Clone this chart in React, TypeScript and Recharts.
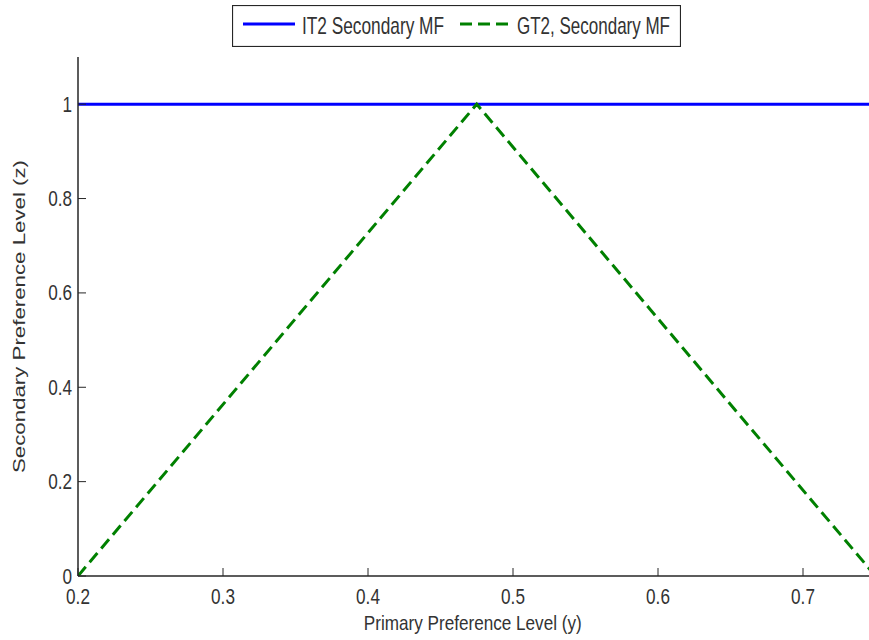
import { LineChart, Line, XAxis, YAxis, Label } from "recharts";

const xTicks = [0.2, 0.3, 0.4, 0.5, 0.6, 0.7];
const yTicks = [0, 0.2, 0.4, 0.6, 0.8, 1];
const it2X = [0.2, 0.75];
const it2Y = [1, 1];
const gt2X = [0.2, 0.475, 0.75];
const gt2Y = [0, 1, 0];

const it2Data = it2X.map((x, i) => ({ x, y: it2Y[i] }));
const gt2Data = gt2X.map((x, i) => ({ x, y: gt2Y[i] }));

const FONT = "'Liberation Sans', Arial, sans-serif";
const AXIS = "#262626";
const TEXT = "#333";
const BLUE = "#0000ff";
const GREEN = "#008000";
const TICK = 8;

// narrow, tall text like the reference's stretched figure
function NarrowText({ x, y, anchor, size, sx, children }: any) {
  return (
    <text
      transform={`translate(${x} ${y}) scale(${sx} 1)`}
      x={0}
      y={0}
      textAnchor={anchor}
      fontSize={size}
      fontFamily={FONT}
      fill={TEXT}
    >
      {children}
    </text>
  );
}

function BottomTick({ x, y, payload }: any) {
  return (
    <g>
      <line x1={x} y1={y} x2={x} y2={y - TICK} stroke={AXIS} />
      <NarrowText x={x} y={y + 28} anchor="middle" size={22} sx={0.78}>
        {String(payload.value)}
      </NarrowText>
    </g>
  );
}

function TopTick({ x, y }: any) {
  return <line x1={x} y1={y} x2={x} y2={y + TICK} stroke={AXIS} />;
}

function LeftTick({ x, y, payload }: any) {
  return (
    <g>
      <line x1={x} y1={y} x2={x + TICK} y2={y} stroke={AXIS} />
      <NarrowText x={x - 6} y={y + 7.5} anchor="end" size={22} sx={0.78}>
        {String(payload.value)}
      </NarrowText>
    </g>
  );
}

function RightTick({ x, y }: any) {
  return <line x1={x} y1={y} x2={x - TICK} y2={y} stroke={AXIS} />;
}

export default function App() {
  return (
    <div
      style={{
        position: "fixed",
        left: 0,
        top: 0,
        width: 869,
        height: 640,
        overflow: "hidden",
        background: "#fff",
      }}
    >
      <LineChart
        width={880}
        height={640}
        margin={{ top: 57, right: 4.5, bottom: 0, left: 18 }}
      >
        <XAxis
          type="number"
          dataKey="x"
          domain={[0.2, 0.75]}
          ticks={xTicks}
          allowDataOverflow
          height={64}
          tickSize={0}
          tickMargin={0}
          tickLine={false}
          stroke={AXIS}
          strokeWidth={1.5}
          tick={<BottomTick />}
          interval={0}
        >
          <Label
            content={(props: any) => {
              const vb = props.viewBox;
              return (
                <text
                  x={vb.x + vb.width / 2 - 4}
                  y={vb.y + 54}
                  textAnchor="middle"
                  textLength={218}
                  lengthAdjust="spacingAndGlyphs"
                  fontSize={21}
                  fontFamily={FONT}
                  fill={TEXT}
                >
                  Primary Preference Level (y)
                </text>
              );
            }}
          />
        </XAxis>
        <XAxis
          xAxisId="top"
          orientation="top"
          type="number"
          dataKey="x"
          domain={[0.2, 0.75]}
          ticks={xTicks}
          height={0}
          tickSize={0}
          tickMargin={0}
          tickLine={false}
          stroke={AXIS}
          tick={<TopTick />}
          interval={0}
        />
        <YAxis
          type="number"
          domain={[0, 1.1]}
          ticks={yTicks}
          allowDataOverflow
          width={60}
          tickSize={0}
          tickMargin={0}
          tickLine={false}
          stroke={AXIS}
          strokeWidth={1.5}
          tick={<LeftTick />}
          interval={0}
        >
          <Label
            content={(props: any) => {
              const vb = props.viewBox;
              const cy = vb.y + vb.height / 2;
              return (
                <text
                  x={25}
                  y={cy}
                  transform={`rotate(-90 25 ${cy})`}
                  textAnchor="middle"
                  textLength={313}
                  lengthAdjust="spacingAndGlyphs"
                  fontSize={16}
                  fontFamily={FONT}
                  fill={TEXT}
                >
                  Secondary Preference Level (z)
                </text>
              );
            }}
          />
        </YAxis>
        <YAxis
          yAxisId="right"
          orientation="right"
          type="number"
          domain={[0, 1.1]}
          ticks={yTicks}
          width={0}
          tickSize={0}
          tickMargin={0}
          tickLine={false}
          stroke={AXIS}
          tick={<RightTick />}
          interval={0}
        />
        <Line
          data={it2Data}
          dataKey="y"
          type="linear"
          stroke={BLUE}
          strokeWidth={3}
          dot={false}
          isAnimationActive={false}
        />
        <Line
          data={gt2Data}
          dataKey="y"
          type="linear"
          stroke={GREEN}
          strokeWidth={3}
          strokeDasharray="12 6"
          dot={false}
          isAnimationActive={false}
        />
      </LineChart>
      <svg
        width={449}
        height={42}
        style={{ position: "absolute", left: 231.5, top: 4.5 }}
      >
        <rect x={0.5} y={0.5} width={448} height={41} fill="#fff" stroke={AXIS} strokeWidth={1.2} />
        <line x1={11} y1={19} x2={63} y2={19} stroke={BLUE} strokeWidth={3} />
        <text
          x={70}
          y={29}
          textLength={142}
          lengthAdjust="spacingAndGlyphs"
          fontSize={24}
          fontFamily={FONT}
          fill={TEXT}
        >
          IT2 Secondary MF
        </text>
        <line
          x1={228}
          y1={19}
          x2={276}
          y2={19}
          stroke={GREEN}
          strokeWidth={3}
          strokeDasharray="12 6"
        />
        <text
          x={285}
          y={29}
          textLength={153}
          lengthAdjust="spacingAndGlyphs"
          fontSize={24}
          fontFamily={FONT}
          fill={TEXT}
        >
          GT2, Secondary MF
        </text>
      </svg>
    </div>
  );
}
